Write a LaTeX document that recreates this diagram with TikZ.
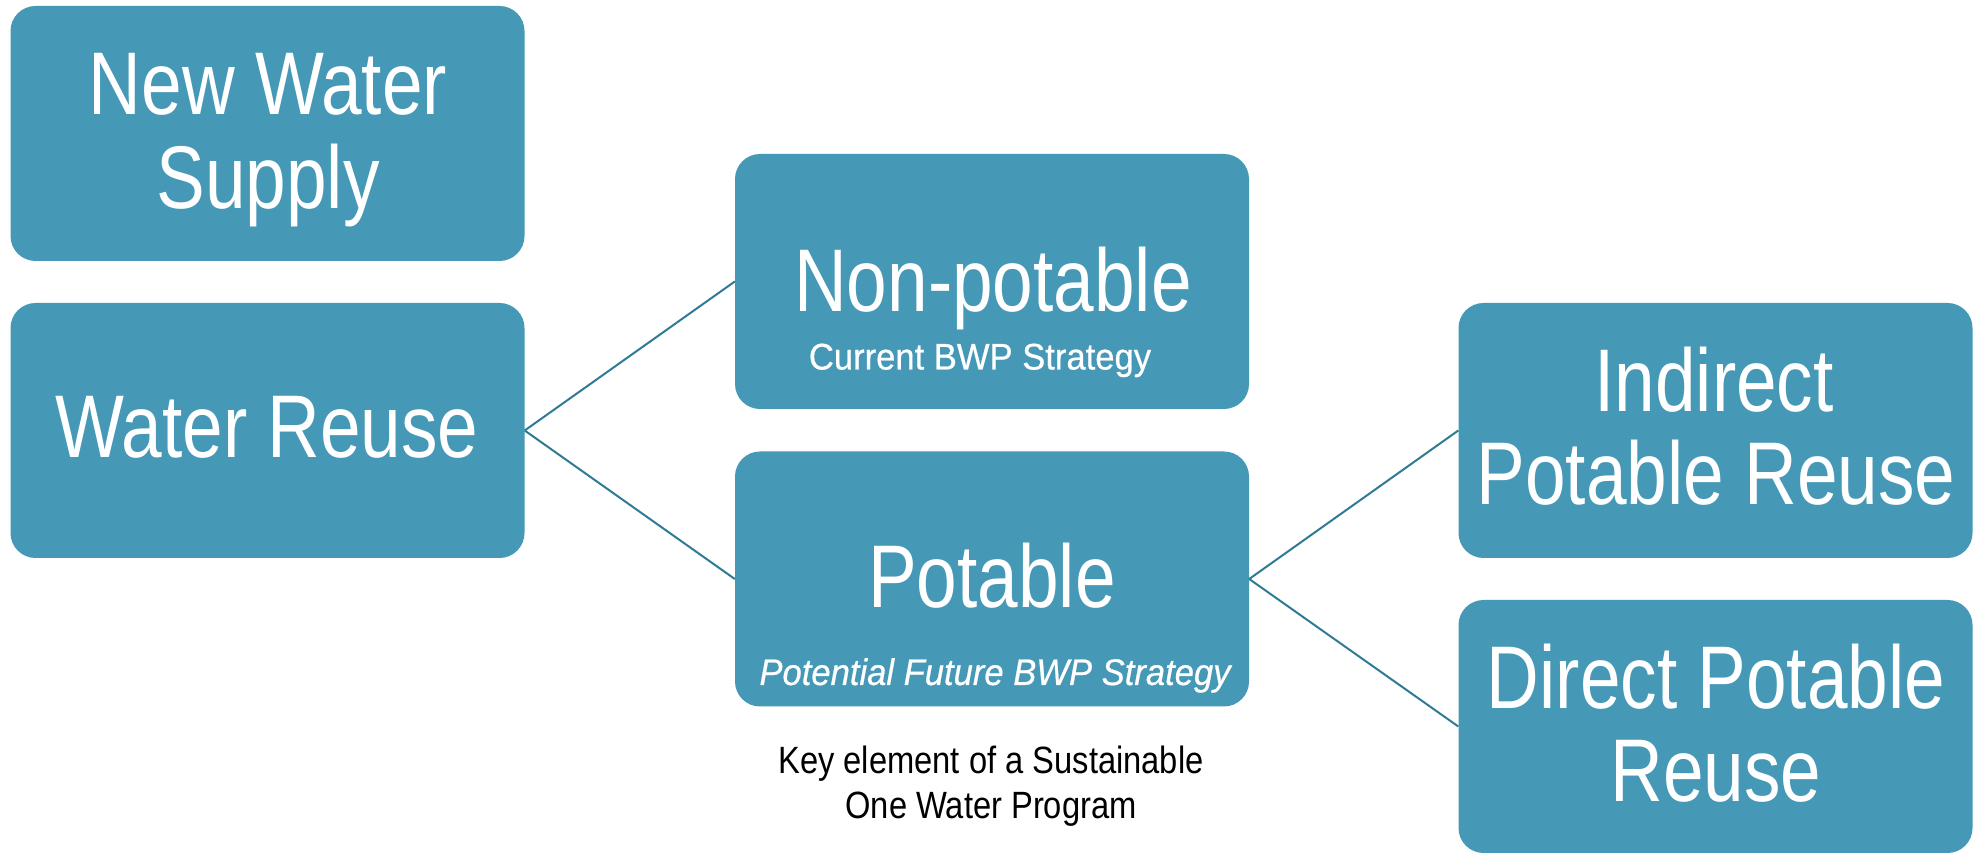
\documentclass[tikz,border=0pt]{standalone}
\usepackage{fontspec}
\setmainfont{Liberation Sans}
\newfontfamily\narrowsans{Liberation Sans}[FakeStretch=0.82]
\newfontfamily\midsans{Liberation Sans}[FakeStretch=0.935,FakeBold=0.6]
\newfontfamily\notesans{Liberation Sans}[FakeStretch=0.86]
\definecolor{tileblue}{RGB}{69,152,182}
\definecolor{linkteal}{RGB}{48,122,148}
\begin{document}
\begin{tikzpicture}[x=1pt,y=1pt,
  tile/.style={fill=tileblue, draw=none, rounded corners=25pt,
    minimum width=514pt, minimum height=255pt, inner sep=0pt},
  title/.style={anchor=base, text=white, inner sep=0pt,
    font=\narrowsans\fontsize{89}{94}\selectfont},
  subtitle/.style={anchor=base, text=white, inner sep=0pt,
    font=\midsans\fontsize{37}{44}\selectfont},
  note/.style={anchor=base, text=black, inner sep=0pt,
    font=\notesans\fontsize{38}{46}\selectfont},
  link/.style={draw=linkteal, line width=2pt},
]
\useasboundingbox (0,0) rectangle (1980,853);

% tiles
\node[tile] (nws) at (267.5,719.5) {};
\node[tile] (wr)  at (267.5,422.5) {};
\node[tile] (np)  at (992,571.5) {};
\node[tile] (pt)  at (992,274) {};
\node[tile] (ipr) at (1715.5,422.5) {};
\node[tile, minimum height=253pt] (dpr) at (1715.5,126.5) {};

% connectors
\draw[link] (wr.east) -- (np.west);
\draw[link] (wr.east) -- (pt.west);
\draw[link] (pt.east) -- (ipr.west);
\draw[link] (pt.east) -- (dpr.west);

% tile texts
\node[title] (nwsA) at (268,738) {New Water};
\node[title] (nwsB) at (268,644) {Supply};
\node[title] (wrA)  at (267,395) {Water Reuse};
\node[title] (npA)  at (993,541.6) {Non-potable};
\node[subtitle] (npB) at (980,483.5) {Current BWP Strategy};
\node[title] (ptA)  at (992,245.4) {Potable};
\node[subtitle, font=\midsans\itshape\fontsize{37}{44}\selectfont] (ptB) at (995,168) {Potential Future BWP Strategy};
\node[title] (iprA) at (1714,441.5) {Indirect};
\node[title] (iprB) at (1716,348.3) {Potable Reuse};
\node[title] (dprA) at (1716,144) {Direct Potable};
\node[title] (dprB) at (1716,51.2) {Reuse};

% caption under the potable tile
\node[note] (keyA) at (991,79) {Key element of a Sustainable};
\node[note] (keyB) at (991,34.2) {One Water Program};
\end{tikzpicture}
\end{document}
